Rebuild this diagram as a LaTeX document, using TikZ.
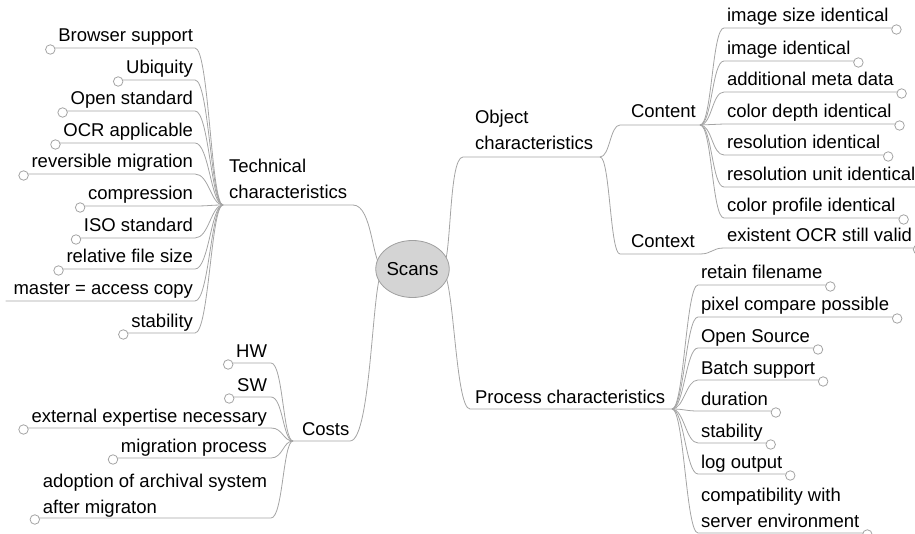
\documentclass[tikz,border=0pt]{standalone}
\usepackage{fontspec}
\setmainfont{Liberation Sans}
\usetikzlibrary{shapes.geometric,calc}
\definecolor{wiregray}{HTML}{A4A4A4}
\definecolor{hubfill}{HTML}{D4D4D4}
\definecolor{hubline}{HTML}{A0A0A0}
\begin{document}
\begin{tikzpicture}[x=1pt,y=-1pt,
  lbl/.style={font=\fontsize{18.5}{26}\selectfont, text=black, inner sep=0pt, outer sep=0pt, align=left},
  wire/.style={draw=wiregray, line width=0.8pt},
  knob/.style={circle, draw=wiregray, fill=white, line width=0.8pt, minimum size=9.5pt, inner sep=0pt},
  hubnode/.style={ellipse, draw=hubline, fill=hubfill, line width=0.8pt, minimum width=59pt, minimum height=57pt, inner sep=0pt, font=\fontsize{18.7}{26}\selectfont}]
\useasboundingbox (0,0) rectangle (915,534);
\clip (0,0) rectangle (915,534);

% attachment points on the central ellipse
\coordinate (hubWa) at (383,267);
\coordinate (hubWb) at (383,271);
\coordinate (hubEa) at (442,267);
\coordinate (hubEb) at (442,271);

% fork points of the branch nodes
\coordinate (techJ) at (223,205);
\coordinate (techE) at (353,205);
\coordinate (costJ) at (293,441);
\coordinate (costE) at (350,441);
\coordinate (objS)  at (463,157);
\coordinate (objJ)  at (600,157);
\coordinate (contS) at (620,125);
\coordinate (contJ) at (700,125);
\coordinate (ctxS)  at (620,254);
\coordinate (ctxJ)  at (700,254);
\coordinate (procS) at (470,409);
\coordinate (procJ) at (672,409);

% branch labels (multi-line labels are placed by their last baseline)
\node[lbl, anchor=base west] (tech) at (229,199) {Technical\\characteristics};
\node[lbl, anchor=base west] (cost) at (302,435) {Costs};
\node[lbl, anchor=base west] (obj)  at (475,150) {Object\\characteristics};
\node[lbl, anchor=base west] (cont) at (631,118) {Content};
\node[lbl, anchor=base west] (ctx)  at (631,248) {Context};
\node[lbl, anchor=base west] (proc) at (475,403) {Process characteristics};

% branch connectors
\draw[wire] (techJ) -- (techE) .. controls +(20,0) and +(-11,0) .. (hubWa);
\draw[wire] (costJ) -- (costE) .. controls +(22,0) and +(-11,0) .. (hubWb);
\draw[wire] (hubEa) .. controls +(10,0) and +(-15,0) .. (objS) -- (objJ);
\draw[wire] (hubEb) .. controls +(12,0) and +(-15,0) .. (procS) -- (procJ);
\draw[wire] (objJ) .. controls +(10,0) and +(-10,0) .. (contS) -- (contJ);
\draw[wire] (objJ) .. controls +(10,0) and +(-10,0) .. (ctxS) -- (ctxJ);

% technical characteristics
\foreach \ly/\k/\t [count=\i] in {48/1/Browser support, 80/1/Ubiquity, 111/1/Open standard, 143/1/OCR applicable, 174/1/reversible migration, 206/1/compression, 238/1/ISO standard, 269/1/relative file size, 301/0/master = access copy, 333/1/stability}{
  \node[lbl, anchor=base east] (tc\i) at (193,\ly-6) {\t};
  \coordinate (tco\i) at ([xshift=-8pt,yshift=-6pt]tc\i.base west);
  \coordinate (tcr\i) at (195,\ly);
  \draw[wire] (tco\i) -- (tcr\i) .. controls +(14,0) and +(-12,0) .. (techJ);
  \ifnum\k=1 \node[knob] (tck\i) at ([yshift=-1.5pt]tco\i) {};\fi
}

% costs
\foreach \ly/\t [count=\i] in {363/HW, 397/SW, 428/external expertise necessary, 458/migration process}{
  \node[lbl, anchor=base east] (cs\i) at (267,\ly-6) {\t};
  \coordinate (cso\i) at ([xshift=-8pt,yshift=-6pt]cs\i.base west);
  \coordinate (csr\i) at (271,\ly);
  \draw[wire] (cso\i) -- (csr\i) .. controls +(12,0) and +(-10,0) .. (costJ);
  \node[knob] (csk\i) at ([yshift=-1.5pt]cso\i) {};
}
\node[lbl, anchor=base east] (cs5) at (267,513) {adoption of archival system\\after migraton};
\coordinate (cso5) at ($(cs5.base west)+(-8,5)$);
\coordinate (csr5) at (271,518);
\draw[wire] (cso5) -- (csr5) .. controls +(12,0) and +(-10,0) .. (costJ);
\node[knob] (csk5) at ([yshift=-1.5pt]cso5) {};

% content
\foreach \ly/\k/\t [count=\i] in {28/1/image size identical, 61/1/image identical, 92/1/additional meta data, 124/1/color depth identical, 155/1/resolution identical, 187/0/resolution unit identical, 218/1/color profile identical}{
  \node[lbl, anchor=base west] (ct\i) at (727,\ly-6) {\t};
  \coordinate (cto\i) at ([xshift=8pt,yshift=-6pt]ct\i.base east);
  \coordinate (ctr\i) at (724,\ly);
  \draw[wire] (contJ) .. controls +(12,0) and +(-12,0) .. (ctr\i) -- (cto\i);
  \ifnum\k=1 \node[knob] (ctk\i) at ([yshift=-1.5pt]cto\i) {};\fi
}

% context
\node[lbl, anchor=base west] (cx1) at (727,242) {existent OCR still valid};
\coordinate (cxo1) at ([xshift=6pt,yshift=-6pt]cx1.base east);
\coordinate (cxr1) at (724,248);
\draw[wire] (ctxJ) .. controls +(12,0) and +(-12,0) .. (cxr1) -- (cxo1);
\node[knob] (cxk1) at ([yshift=-1.5pt]cxo1) {};

% process characteristics
\foreach \ly/\t [count=\i] in {285/retain filename, 317/pixel compare possible, 348/Open Source, 380/Batch support, 411/duration, 443/stability, 474/log output}{
  \node[lbl, anchor=base west] (pc\i) at (701,\ly-6) {\t};
  \coordinate (pco\i) at ([xshift=8pt,yshift=-6pt]pc\i.base east);
  \coordinate (pcr\i) at (698,\ly);
  \draw[wire] (procJ) .. controls +(12,0) and +(-12,0) .. (pcr\i) -- (pco\i);
  \node[knob] (pck\i) at ([yshift=-1.5pt]pco\i) {};
}
\node[lbl, anchor=base west] (pc8) at (701,527) {compatibility with\\server environment};
\coordinate (pco8) at ($(pc8.base east)+(8,6)$);
\coordinate (pcr8) at (698,533);
\draw[wire] (procJ) .. controls +(12,0) and +(-12,0) .. (pcr8) -- (pco8);
\node[knob] (pck8) at ([yshift=-1.5pt]pco8) {};

% central topic
\node[hubnode] (hub) at (412.5,269) {Scans};
\end{tikzpicture}
\end{document}
